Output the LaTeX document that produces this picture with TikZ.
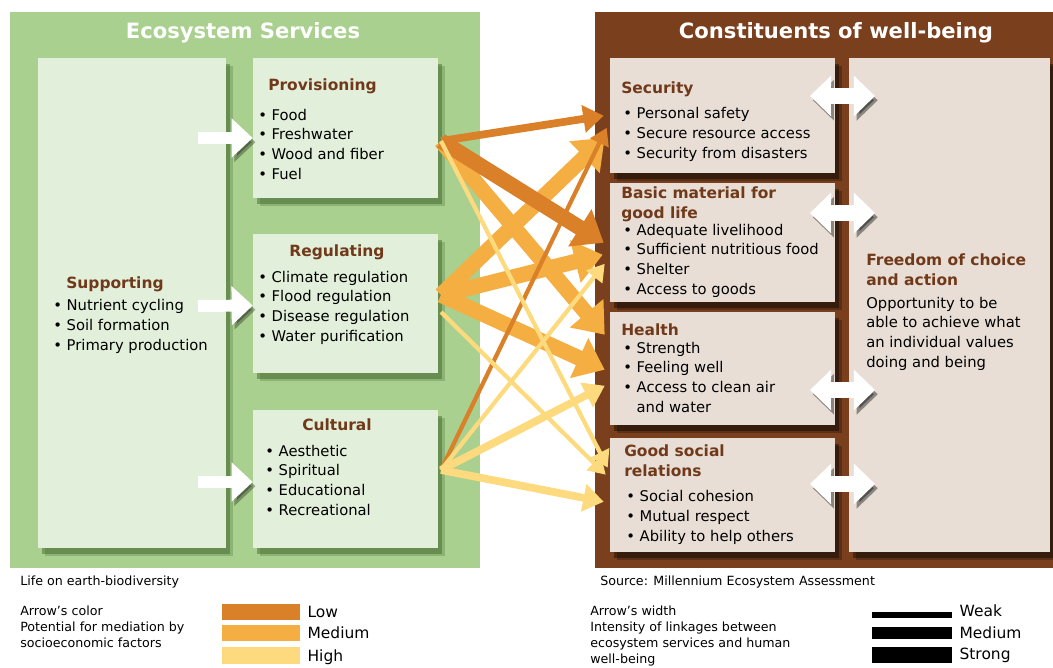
\documentclass[tikz,border=0pt]{standalone}
\usepackage{fontspec}
\setmainfont{DejaVu Sans}
\usetikzlibrary{positioning, calc, fit, shadows, arrows.meta}
\definecolor{panelGreen}{RGB}{169,208,142}
\definecolor{boxGreen}{RGB}{226,239,218}
\definecolor{shadowGreen}{RGB}{58,96,40}
\definecolor{panelBrown}{RGB}{122,64,30}
\definecolor{boxBrown}{RGB}{232,222,214}
\definecolor{titleBrown}{RGB}{112,58,26}
\definecolor{lowColor}{RGB}{217,128,40}
\definecolor{medColor}{RGB}{244,174,66}
\definecolor{highColor}{RGB}{252,218,125}
\tikzstyle{panel} = [inner sep=0pt, draw=none]
\tikzstyle{greenbox} = [inner sep=0pt, fill=boxGreen,
  drop shadow={shadow xshift=5pt, shadow yshift=-6pt, fill=shadowGreen, opacity=0.25},
  drop shadow={shadow xshift=3pt, shadow yshift=-4pt, fill=shadowGreen, opacity=0.45}]
\tikzstyle{brownbox} = [inner sep=0pt, fill=boxBrown,
  drop shadow={shadow xshift=5pt, shadow yshift=-6pt, fill=black, opacity=0.25},
  drop shadow={shadow xshift=3pt, shadow yshift=-4pt, fill=black, opacity=0.4}]
\tikzstyle{headline} = [font=\fontsize{15}{18}\selectfont\bfseries, text=white]
\tikzstyle{boxtitle} = [font=\fontsize{11}{14}\selectfont\bfseries, text=titleBrown, inner sep=0pt, align=left]
\tikzstyle{items} = [font=\fontsize{10.5}{13.9}\selectfont, inner sep=0pt, align=left, anchor=base west]
\tikzstyle{legtext} = [font=\fontsize{9}{11.3}\selectfont, inner sep=0pt, align=left, anchor=base west]
\tikzstyle{legbig} = [font=\fontsize{11}{13}\selectfont, inner sep=0pt]
\tikzstyle{whiteArrow} = [white, line width=8.5pt, -{Triangle[length=15pt 0, width=27pt 0]}, preaction={draw=black, opacity=0.3, transform canvas={xshift=2pt, yshift=-3pt}}]
\tikzstyle{twoWay} = [white, line width=11pt, {Triangle[length=15pt 0, width=28pt 0]}-{Triangle[length=15pt 0, width=28pt 0]}, preaction={draw=black, opacity=0.4, transform canvas={xshift=2pt, yshift=-3pt}}]
\tikzstyle{link} = [-{Triangle[length=9pt 1, width=8pt 2]}]
\tikzstyle{weaklink} = [link, line width=3pt]
\tikzstyle{mediumlink} = [link, line width=5.5pt]
\tikzstyle{stronglink} = [link, line width=11pt]

\begin{document}
\begin{tikzpicture}[x=0.025cm, y=-0.025cm]
\useasboundingbox (0,0) rectangle (1053,667);

% panels
\node[panel, fill=panelGreen, fit={(10,12) (480,568)}] (es) {};
\node[panel, fill=panelBrown, fit={(595,12) (1053,568)}] (cw) {};
\node[headline] (esTitle) at (243,33) {Ecosystem Services};
\node[headline] (cwTitle) at (836,33) {Constituents of well-being};

% ecosystem services (multi-line texts sit on their last line)
\node[greenbox, fit={(38,58) (226,548)}] (supp) {};
\node[greenbox, fit={(253,58) (438,198)}] (prov) {};
\node[greenbox, fit={(253,234) (438,373)}] (regu) {};
\node[greenbox, fit={(253,410) (438,548)}] (cult) {};

\node[boxtitle, anchor=base west] (suppT) at (66,288) {Supporting};
\node[items] (suppL) at (53,350) {• Nutrient cycling\\• Soil formation\\• Primary production};
\node[boxtitle, anchor=base west] (provT) at (268,90) {Provisioning};
\node[items] (provL) at (258,179) {• Food\\• Freshwater\\• Wood and fiber\\• Fuel};
\node[boxtitle, anchor=base] (reguT) at (337,256) {Regulating};
\node[items] (reguL) at (258,341) {• Climate regulation\\• Flood regulation\\• Disease regulation\\• Water purification};
\node[boxtitle, anchor=base] (cultT) at (337,430) {Cultural};
\node[items] (cultL) at (265,515) {• Aesthetic\\• Spiritual\\• Educational\\• Recreational};

% constituents of well-being
\node[brownbox, fit={(610,58) (835,173)}] (secu) {};
\node[brownbox, fit={(610,183) (835,302)}] (basic) {};
\node[brownbox, fit={(610,312) (835,425)}] (health) {};
\node[brownbox, fit={(610,438) (835,552)}] (social) {};
\node[brownbox, fit={(849,58) (1050,552)}] (freedom) {};

\node[boxtitle, anchor=base west] (secuT) at (621,93) {Security};
\node[items] (secuL) at (623,158) {• Personal safety\\• Secure resource access\\• Security from disasters};
\node[boxtitle, anchor=base west] (basicT) at (621,218) {Basic material for\\good life};
\node[items] (basicL) at (623,294) {• Adequate livelihood\\• Sufficient nutritious food\\• Shelter\\• Access to goods};
\node[boxtitle, anchor=base west] (healthT) at (621,335) {Health};
\node[items] (healthL) at (623,412) {• Strength\\• Feeling well\\• Access to clean air\\\hphantom{•}\ and water};
\node[boxtitle, anchor=base west] (socialT) at (624,476) {Good social\\relations};
\node[items] (socialL) at (626,541) {• Social cohesion\\• Mutual respect\\• Ability to help others};
\node[boxtitle, anchor=base west] (freedomT) at (866,285) {Freedom of choice\\and action};
\node[items] (freedomL) at (866,367) {Opportunity to be\\able to achieve what\\an individual values\\doing and being};

% white arrows
\coordinate (s1) at (198,138);
\coordinate (s2) at (198,306);
\coordinate (s3) at (198,482);
\draw[whiteArrow] (s1) -- ($(prov.west)+(0,10)$);
\draw[whiteArrow] (s2) -- ($(regu.west)+(0,2)$);
\draw[whiteArrow] (s3) -- ($(cult.west)+(0,3)$);
\coordinate (d1a) at (810,96);  \coordinate (d1b) at (875,96);
\coordinate (d2a) at (810,213); \coordinate (d2b) at (875,213);
\coordinate (d3a) at (810,390); \coordinate (d3b) at (875,390);
\coordinate (d4a) at (810,484); \coordinate (d4b) at (875,484);
\draw[twoWay] (d1a) -- (d1b);
\draw[twoWay] (d2a) -- (d2b);
\draw[twoWay] (d3a) -- (d3b);
\draw[twoWay] (d4a) -- (d4b);

% linkages
\coordinate (pOut) at (441,141);
\coordinate (rOut) at (441,295);
\coordinate (rOut2) at (441,312);
\coordinate (cOut) at (441,470);
\draw[stronglink, medColor] (rOut) -- ($(secu.north west)+(-5,80)$);
\draw[stronglink, medColor] (rOut) -- ($(basic.north west)+(-7,72)$);
\draw[stronglink, medColor] (pOut) -- ($(health.north west)+(-5,23)$);
\draw[stronglink, medColor] (rOut) -- ($(health.north west)+(-5,58)$);
\draw[mediumlink, lowColor] (pOut) -- ($(secu.north west)+(-6,58)$);
\draw[weaklink, lowColor] (cOut) -- ($(secu.north west)+(-3,70)$);
\draw[stronglink, lowColor] (pOut) -- ($(basic.north west)+(-6,60)$);
\draw[weaklink, highColor] (cOut) -- ($(basic.north west)+(-5,81)$);
\draw[mediumlink, highColor] (cOut) -- ($(health.north west)+(-5,74)$);
\draw[weaklink, highColor] (pOut) -- ($(social.north west)+(-2,30)$);
\draw[weaklink, highColor] (rOut2) -- ($(social.north west)+(-4,37)$);
\draw[mediumlink, highColor] (cOut) -- ($(social.north west)+(-6,64)$);

% legend
\node[legtext] (bio) at (20,585) {Life on earth-biodiversity};
\node[legtext] (src) at (600,585) {Source: Millennium Ecosystem Assessment};
\node[legtext] (colLeg) at (20,647) {Arrow's color\\Potential for mediation by\\socioeconomic factors};
\node[legtext] (widLeg) at (590,663) {Arrow's width\\Intensity of linkages between\\ecosystem services and human\\well-being};
\node[panel, fill=lowColor, fit={(222,604) (300,620)}] (lowSw) {};
\node[panel, fill=medColor, fit={(222,625) (300,641)}] (medSw) {};
\node[panel, fill=highColor, fit={(222,647) (300,664)}] (highSw) {};
\node[legbig, right=5pt of lowSw] (lowL) {Low};
\node[legbig, right=5pt of medSw] (medL) {Medium};
\node[legbig, right=5pt of highSw, yshift=-1pt] (highL) {High};
\node[panel, fill=black, fit={(872,612) (952,618)}] (weakBar) {};
\node[panel, fill=black, fit={(872,627) (952,639)}] (medBar) {};
\node[panel, fill=black, fit={(872,647) (952,663)}] (strongBar) {};
\node[legbig, right=5pt of weakBar, yshift=3pt] (weakL) {Weak};
\node[legbig, right=5pt of medBar] (medWL) {Medium};
\node[legbig, right=5pt of strongBar] (strongL) {Strong};
\end{tikzpicture}
\end{document}
